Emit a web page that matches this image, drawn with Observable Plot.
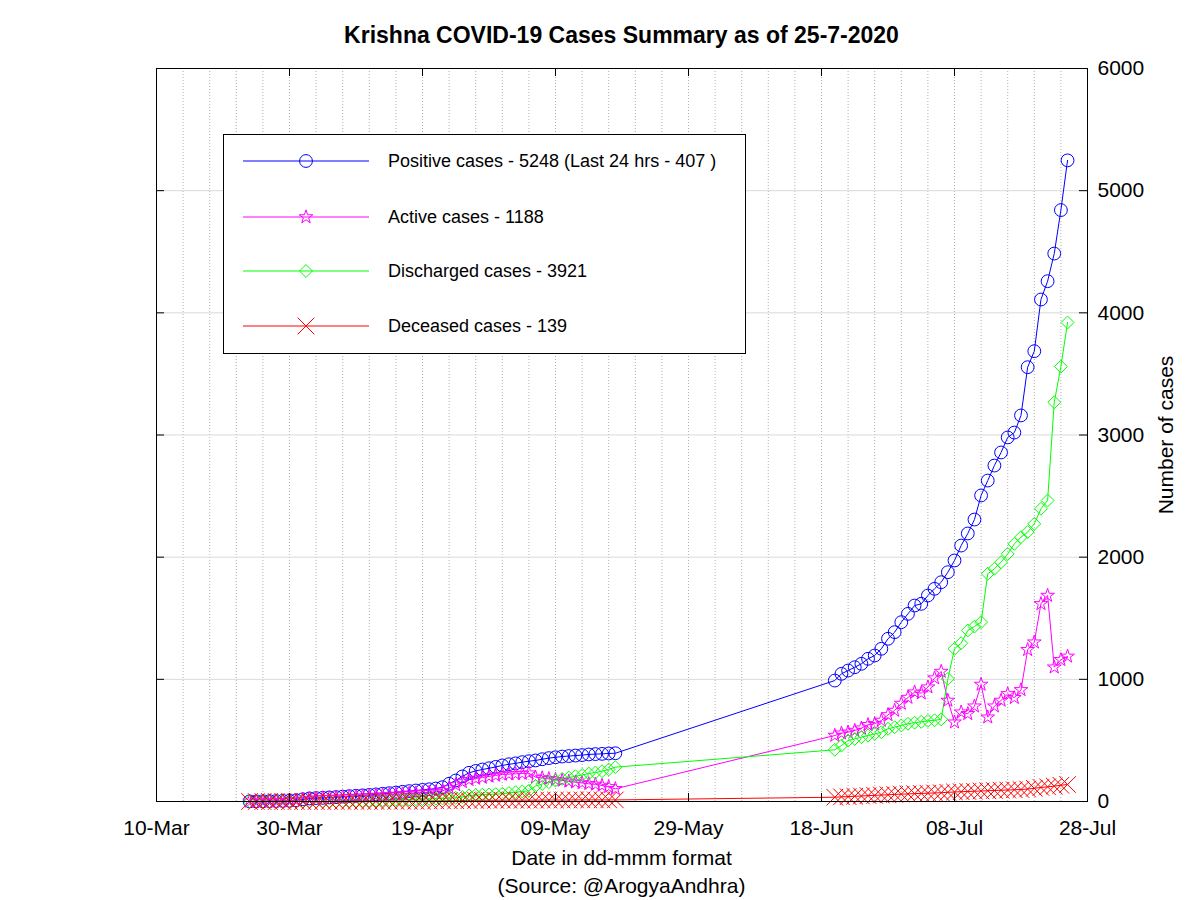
<!DOCTYPE html>
<html>
<head>
<meta charset="utf-8">
<script src="https://cdn.jsdelivr.net/npm/d3@7"></script>
<script src="https://cdn.jsdelivr.net/npm/@observablehq/plot@0.6"></script>
<style>
  body { margin: 0; background: #fff; font-family: "Liberation Sans", Arial, Helvetica, sans-serif; }
  #wrap { position: relative; width: 1200px; height: 900px; overflow: hidden; }
  #chart { position: absolute; left: 0; top: 0; }
  .ovl { position: absolute; color: #000; white-space: nowrap; }
  #title { left: 156px; width: 931px; top: 20px; text-align: center; font-weight: bold; font-size: 23px; line-height: 30px; }
  #xlabel { left: 156px; width: 931px; top: 845px; text-align: center; font-size: 21px; line-height: 26px; }
  #source { left: 156px; width: 931px; top: 873px; text-align: center; font-size: 21px; line-height: 26px; }
  #legend { left: 223px; top: 134px; width: 521px; height: 218px; border: 1px solid #000; background: #fff; }
  #legend svg { position: absolute; left: 0; top: 0; }
  .lgtext { position: absolute; left: 164px; font-size: 18px; line-height: 22px; }
</style>
</head>
<body>
<div id="wrap">
  <div id="chart"></div>
  <div id="title" class="ovl">Krishna COVID-19 Cases Summary as of 25-7-2020</div>
  <div id="legend" class="ovl"></div>
  <div id="xlabel" class="ovl">Date in dd-mmm format</div>
  <div id="source" class="ovl">(Source: @ArogyaAndhra)</div>
</div>
<script>
// ---------------- DATA ----------------
const dates = [
  "2020-03-24","2020-03-25","2020-03-26","2020-03-27","2020-03-28","2020-03-29","2020-03-30","2020-03-31",
  "2020-04-01","2020-04-02","2020-04-03","2020-04-04","2020-04-05","2020-04-06","2020-04-07","2020-04-08","2020-04-09","2020-04-10",
  "2020-04-11","2020-04-12","2020-04-13","2020-04-14","2020-04-15","2020-04-16","2020-04-17","2020-04-18","2020-04-19","2020-04-20",
  "2020-04-21","2020-04-22","2020-04-23","2020-04-24","2020-04-25","2020-04-26","2020-04-27","2020-04-28","2020-04-29","2020-04-30",
  "2020-05-01","2020-05-02","2020-05-03","2020-05-04","2020-05-05","2020-05-06","2020-05-07","2020-05-08","2020-05-09","2020-05-10",
  "2020-05-11","2020-05-12","2020-05-13","2020-05-14","2020-05-15","2020-05-16","2020-05-17","2020-05-18",
  "2020-06-20","2020-06-21","2020-06-22","2020-06-23","2020-06-24","2020-06-25","2020-06-26","2020-06-27","2020-06-28","2020-06-29","2020-06-30",
  "2020-07-01","2020-07-02","2020-07-03","2020-07-04","2020-07-05","2020-07-06","2020-07-07","2020-07-08","2020-07-09","2020-07-10",
  "2020-07-11","2020-07-12","2020-07-13","2020-07-14","2020-07-15","2020-07-16","2020-07-17","2020-07-18","2020-07-19","2020-07-20",
  "2020-07-21","2020-07-22","2020-07-23","2020-07-24","2020-07-25"
];

const positive = [
  1,1,2,3,4,5,6,10,
  18,25,28,30,33,36,40,44,47,50,
  54,58,63,68,73,79,85,90,95,100,
  106,117,145,172,205,235,250,262,272,283,
  295,305,312,322,330,336,346,355,362,368,
  372,376,380,385,388,390,393,395,
  990,1045,1072,1099,1127,1168,1195,1250,1332,1386,1468,
  1536,1604,1618,1686,1741,1795,1877,1973,2095,2194,
  2308,2505,2627,2750,2857,2980,3020,3160,3555,3686,
  4109,4259,4485,4841,5248
];

const active = [
  1,1,2,3,4,5,6,10,
  17,24,27,29,31,33,36,39,41,43,
  46,49,52,55,58,62,66,69,72,75,
  78,86,110,135,160,178,188,196,205,213,
  221,224,226,229,232,199,193,186,179,172,
  165,158,152,145,140,131,120,104,
  540,559,567,581,600,628,636,663,709,745,802,
  851,895,887,936,1010,1064,827,649,731,718,
  780,958,690,780,827,881,849,914,1242,1304,
  1618,1686,1099,1160,1188
];

const discharged = [
  0,0,0,0,0,0,0,0,
  1,1,1,1,1,2,3,4,5,6,
  7,8,10,11,13,14,16,18,20,21,
  23,25,28,30,37,49,53,56,57,60,
  63,70,76,82,88,127,143,158,172,185,
  196,207,217,229,237,248,262,281,
  423,458,499,513,526,540,554,567,595,608,622,
  636,645,652,660,665,672,1004,1250,1296,1400,
  1432,1468,1864,1905,1959,2027,2109,2164,2205,2273,
  2396,2464,3268,3560,3921
];

const deceased = [
  0,0,0,0,0,0,0,0,
  0,0,0,0,1,1,1,1,1,1,
  1,1,1,2,2,3,3,3,3,4,
  5,6,7,7,8,8,9,10,10,10,
  11,11,11,11,11,11,12,12,12,12,
  12,13,13,13,13,13,13,13,
  35,38,40,43,45,48,50,53,55,58,60,
  62,64,66,68,70,72,75,78,80,82,
  84,86,88,90,92,94,96,98,102,108,
  115,120,126,133,139
];

const seriesNames = ["Positive", "Active", "Discharged", "Deceased"];
const seriesColors = ["#0000ff", "#ff00ff", "#00ff00", "#ff0000"];
const legendLabels = [
  "Positive cases - 5248 (Last 24 hrs - 407 )",
  "Active cases - 1188",
  "Discharged cases - 3921",
  "Deceased cases - 139"
];

const xDomain = ["2020-03-10", "2020-07-28"];
const xTickDates = ["2020-03-10","2020-03-30","2020-04-19","2020-05-09","2020-05-29","2020-06-18","2020-07-08","2020-07-28"];
const yTicks = [0, 1000, 2000, 3000, 4000, 5000, 6000];

// ---------------- BUILD ----------------
const parse = d3.utcParse("%Y-%m-%d");
const seriesValues = [positive, active, discharged, deceased];
const table = [];
seriesNames.forEach((s, si) => {
  dates.forEach((d, i) => {
    table.push({ series: s, date: parse(d), value: seriesValues[si][i] });
  });
});

const W = 1200, H = 900;
const mL = 156, mR = 113, mT = 68, mB = 99;
const innerW = W - mL - mR, innerH = H - mT - mB;
const tickLen = 8;

const x0 = parse(xDomain[0]), x1 = parse(xDomain[1]);
const xTicks = xTickDates.map(parse);
const minorGrid = d3.utcDay.range(x0, d3.utcDay.offset(x1, 1), 4);

const markerSpec = {
  Positive: { symbol: "circle", r: 6.4 },
  Active: { symbol: "star", r: 4.3 },
  Discharged: { symbol: "diamond2", r: 5.8 },
  Deceased: { symbol: "times", r: 7.6 }
};

const dotMarks = seriesNames.map((s, i) =>
  Plot.dot(table.filter(d => d.series === s), {
    x: "date", y: "value",
    symbol: markerSpec[s].symbol,
    r: markerSpec[s].r,
    stroke: seriesColors[i],
    fill: "none",
    strokeWidth: 1
  })
);

const chart = Plot.plot({
  width: W, height: H,
  marginLeft: mL, marginRight: mR, marginTop: mT, marginBottom: mB,
  style: { fontFamily: "'Liberation Sans', Arial, Helvetica, sans-serif", color: "#000", background: "#fff" },
  x: { type: "utc", domain: [x0, x1] },
  y: { domain: [0, 6000] },
  color: { domain: seriesNames, range: seriesColors },
  marks: [
    Plot.ruleX(minorGrid, { stroke: "#b0b0b0", strokeWidth: 1, strokeDasharray: "1,2" }),
    Plot.ruleY(yTicks.slice(1, -1), { stroke: "#d9d9d9", strokeWidth: 1 }),
    Plot.line(table, { x: "date", y: "value", z: "series", stroke: "series", strokeWidth: 1 }),
    ...dotMarks,
    Plot.frame({ stroke: "#000", strokeWidth: 1 }),
    // inward ticks on all four sides
    Plot.ruleX(xTicks, { stroke: "#000", insetTop: innerH - tickLen }),
    Plot.ruleX(xTicks, { stroke: "#000", insetBottom: innerH - tickLen }),
    Plot.ruleY(yTicks, { stroke: "#000", insetLeft: innerW - tickLen }),
    Plot.ruleY(yTicks, { stroke: "#000", insetRight: innerW - tickLen }),
    Plot.axisX({ ticks: xTicks, tickFormat: d3.utcFormat("%d-%b"), tickSize: 0, tickPadding: 19, fontSize: 21, label: null }),
    Plot.axisY({ anchor: "right", ticks: yTicks, tickFormat: d => String(d), tickSize: 0, tickPadding: 10, fontSize: 21,
                 label: "Number of cases", labelAnchor: "center", labelOffset: 85, labelArrow: "none" })
  ]
});
document.getElementById("chart").appendChild(chart);

// ---------------- LEGEND ----------------
const legend = d3.select("#legend");
const lsvg = legend.append("svg").attr("width", 521).attr("height", 218);
const rowY = [26, 82, 136, 191];
const symFns = [d3.symbolCircle, d3.symbolStar, d3.symbolDiamond2, d3.symbolTimes];
seriesNames.forEach((s, i) => {
  const sp = markerSpec[s];
  lsvg.append("line").attr("x1", 19).attr("x2", 145).attr("y1", rowY[i]).attr("y2", rowY[i])
    .attr("stroke", seriesColors[i]).attr("stroke-width", 1);
  lsvg.append("path")
    .attr("d", d3.symbol(symFns[i], Math.PI * sp.r * sp.r)())
    .attr("transform", `translate(82,${rowY[i]})`)
    .attr("fill", "none").attr("stroke", seriesColors[i]).attr("stroke-width", 1);
  legend.append("div").attr("class", "lgtext").style("top", (rowY[i] - 11) + "px").text(legendLabels[i]);
});
</script>
</body>
</html>
